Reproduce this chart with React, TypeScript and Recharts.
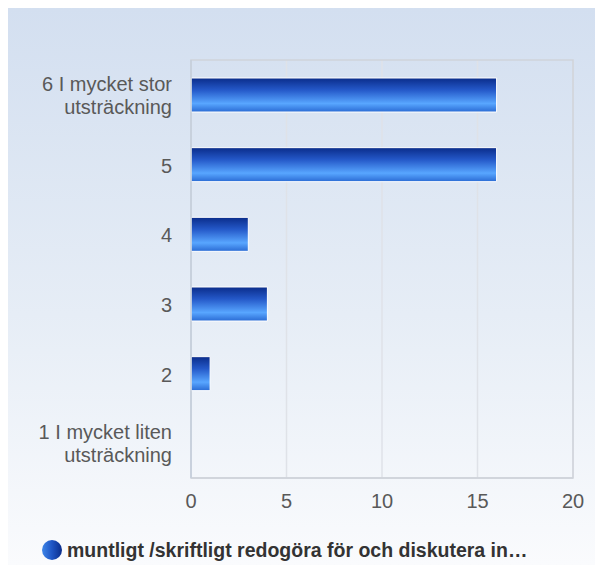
import React from "react";
import { BarChart, Bar, XAxis, YAxis, CartesianGrid, ReferenceArea } from "recharts";

const categories = [
  "6 I mycket stor\nutsträckning",
  "5",
  "4",
  "3",
  "2",
  "1 I mycket liten\nutsträckning",
];
const values = [16, 16, 3, 4, 1, 0];
const xTicks = [0, 5, 10, 15, 20];
const seriesName = "muntligt /skriftligt redogöra för och diskutera in…";

const data = categories.map((c, i) => ({ cat: c, v: values[i] }));

const FONT = "'Liberation Sans', Arial, sans-serif";

const YTick = (props: any) => {
  const { x, y, payload } = props;
  const lines = String(payload.value).split("\n");
  const ax = x - 3;
  if (lines.length === 1) {
    return (
      <text x={ax} y={y + 8} textAnchor="end" fill="#595959" fontSize={20} fontFamily={FONT}>
        {lines[0]}
      </text>
    );
  }
  return (
    <text textAnchor="end" fill="#595959" fontSize={20} fontFamily={FONT}>
      <tspan x={ax} y={y - 4}>{lines[0]}</tspan>
      <tspan x={ax} y={y + 19}>{lines[1]}</tspan>
    </text>
  );
};

export default function App() {
  return (
    <div
      style={{
        position: "fixed",
        left: 8,
        top: 8,
        width: 587,
        height: 557,
        overflow: "hidden",
        background: "linear-gradient(to bottom, #d3dff0 0%, #e6edf6 55%, #fafbfd 100%)",
      }}
    >
      <BarChart
        width={587}
        height={557}
        data={data}
        layout="vertical"
        margin={{ top: 52, right: 22, left: 0, bottom: 57 }}
        barCategoryGap="51%"
      >
        <defs>
          <linearGradient id="barGrad" x1="0" y1="0" x2="0" y2="1">
            <stop offset="0%" stopColor="#0a2c8a" />
            <stop offset="35%" stopColor="#2458c8" />
            <stop offset="75%" stopColor="#58a6ff" />
            <stop offset="100%" stopColor="#2a6bd4" />
          </linearGradient>
        </defs>
        <CartesianGrid horizontal={false} stroke="#dfe2e8" strokeWidth={1.5} />
        <ReferenceArea x1={0} x2={20} fill="none" stroke="#cfd3da" strokeWidth={1.5} ifOverflow="visible" />
        <XAxis
          type="number"
          domain={[0, 20]}
          ticks={xTicks}
          tickLine={false}
          tickSize={0}
          tickMargin={16}
          axisLine={{ stroke: "#cfd3da", strokeWidth: 1.5 }}
          height={30}
          tick={{ fill: "#595959", fontSize: 20, fontFamily: FONT }}
          interval={0}
        />
        <YAxis
          type="category"
          dataKey="cat"
          width={183}
          tickLine={false}
          tickSize={0}
          tickMargin={16}
          axisLine={{ stroke: "#c5cfdd", strokeWidth: 1.5 }}
          tick={<YTick />}
          interval={0}
        />
        <Bar
          dataKey="v"
          fill="url(#barGrad)"
          stroke="#ffffff"
          strokeWidth={1}
          barSize={34}
          isAnimationActive={false}
        />
      </BarChart>
      <div
        style={{
          position: "absolute",
          left: 34,
          top: 530,
          height: 24,
          display: "flex",
          alignItems: "center",
          fontFamily: FONT,
          fontWeight: "bold",
          fontSize: 19.5,
          lineHeight: "24px",
          color: "#333",
          whiteSpace: "nowrap",
        }}
      >
        <span
          style={{
            display: "inline-block",
            width: 20,
            height: 20,
            borderRadius: 10,
            marginRight: 5,
            background: "linear-gradient(to right, #3f86e8 0%, #1f55c4 50%, #0a2c8a 100%)",
          }}
        />
        <span>{seriesName}</span>
      </div>
    </div>
  );
}
